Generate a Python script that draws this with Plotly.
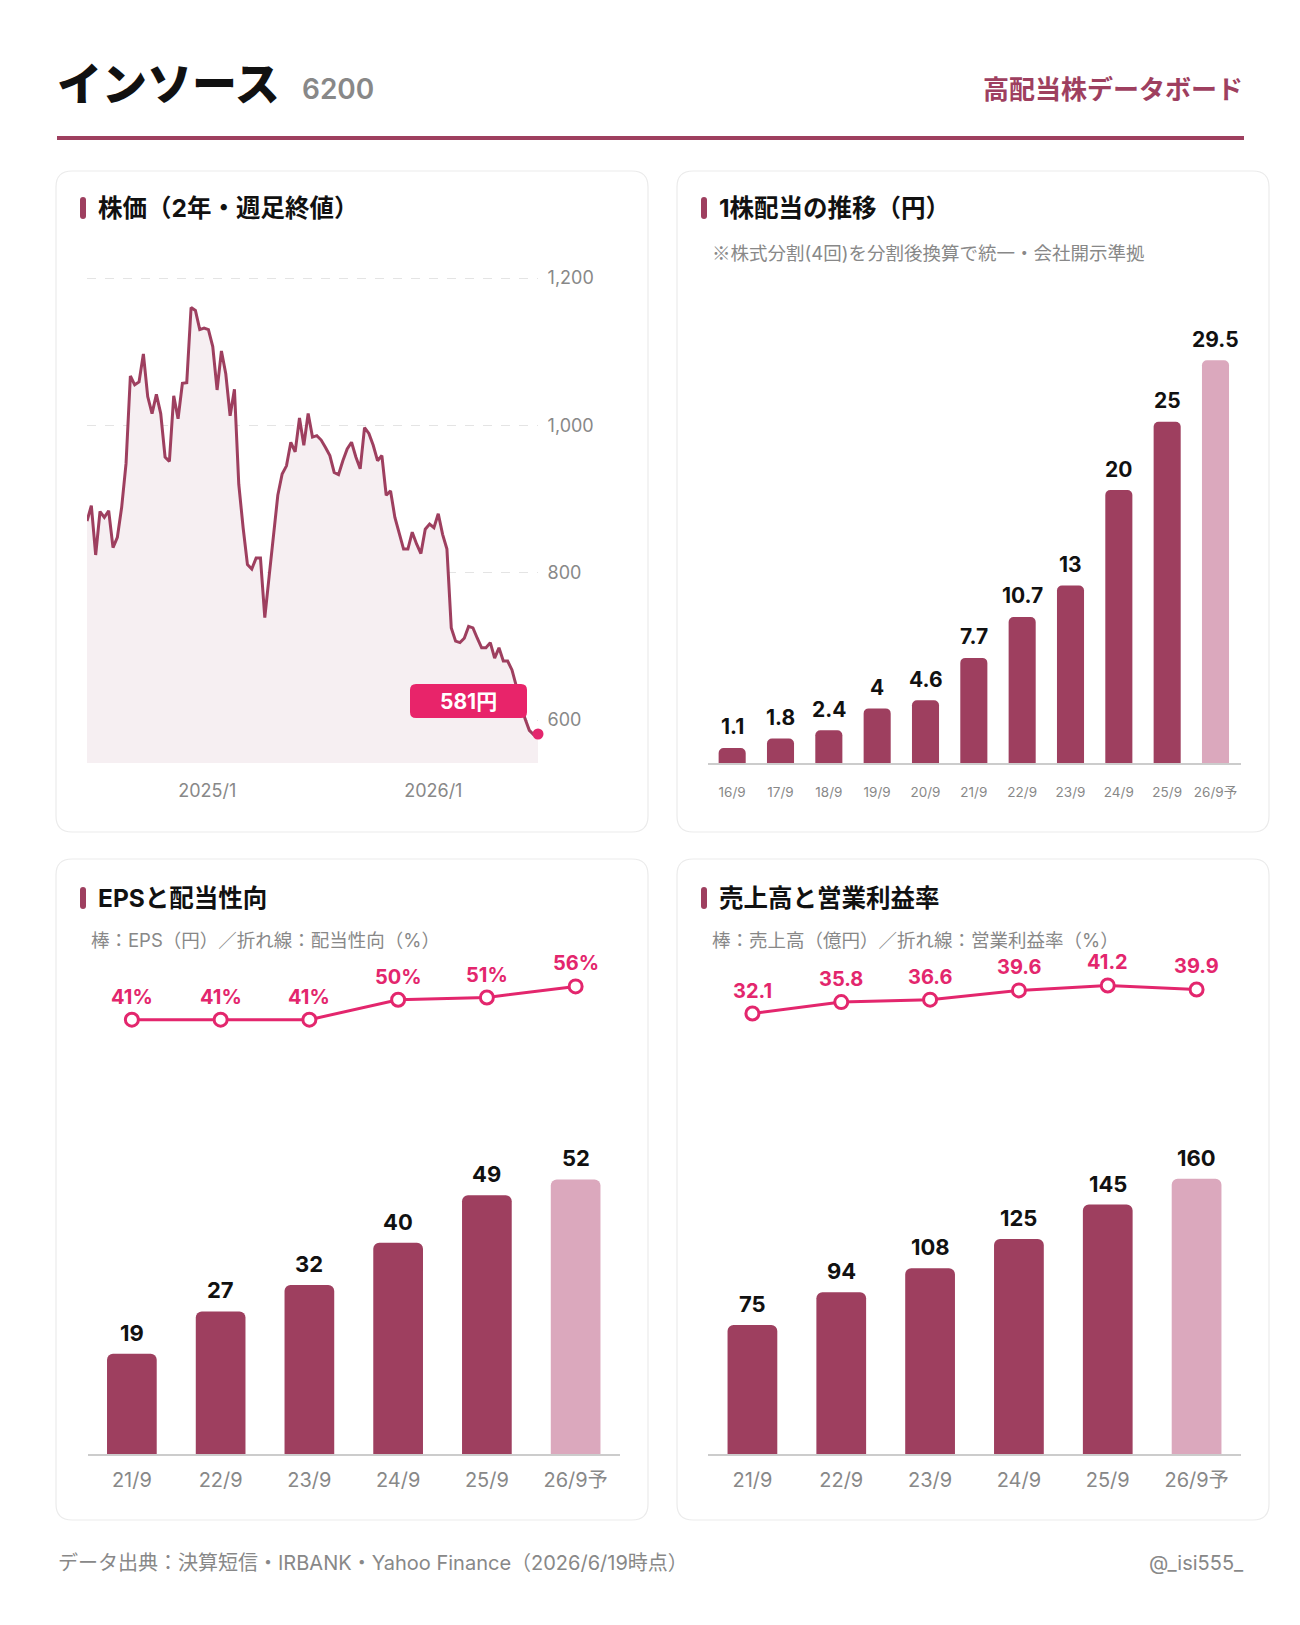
import plotly.graph_objects as go
import pandas as pd

W, H = 1300, 1625
OFF = 8  # browser body margin
FONT = "Inter, Noto Sans CJK JP"
CJK = "Noto Sans CJK JP"
MAROON = "#9e3f5f"
FORECAST = "#dba8bd"
ACCENT = "#e3266d"
GRAY = "#888888"
DARK = "#111111"

# ---------------- data ----------------
price_values = [870, 891, 824, 883, 875, 884, 834, 848, 889, 948,
                1067, 1055, 1059, 1097, 1039, 1016, 1042, 1016, 957, 951,
                1040, 1009, 1057, 1058, 1160, 1156, 1130, 1132, 1130, 1107,
                1048, 1101, 1070, 1013, 1049, 920, 861, 811, 805, 820,
                820, 739, 795, 855, 905, 934, 945, 977, 964, 1010,
                973, 1016, 984, 986, 980, 970, 959, 936, 933, 952,
                968, 977, 957, 941, 997, 989, 973, 952, 959, 905,
                911, 875, 855, 832, 832, 855, 839, 826, 859, 866,
                861, 880, 852, 832, 725, 707, 705, 711, 727, 725,
                711, 698, 698, 705, 684, 698, 680, 680, 668, 645,
                625, 602, 586, 580, 581]
price_end_date = "2026-06-19"
price_ticks = [600, 800, 1000, 1200]
price_date_ticks = ["2025-01-01", "2026-01-01"]
price_date_labels = ["2025/1", "2026/1"]

div_years = ["16/9", "17/9", "18/9", "19/9", "20/9", "21/9", "22/9", "23/9", "24/9", "25/9", "26/9予"]
div_values = [1.1, 1.8, 2.4, 4, 4.6, 7.7, 10.7, 13, 20, 25, 29.5]

fin_years = ["21/9", "22/9", "23/9", "24/9", "25/9", "26/9予"]
eps_values = [19, 27, 32, 40, 49, 52]
payout_values = [41, 41, 41, 50, 51, 56]
sales_values = [75, 94, 108, 125, 145, 160]
margin_values = [32.1, 35.8, 36.6, 39.6, 41.2, 39.9]

price_dates = pd.date_range(end=price_end_date, periods=len(price_values), freq="7D")


def bar_colors(labels):
    return [FORECAST if l.endswith("予") else MAROON for l in labels]


def fmt(v):
    return f"{v:g}"


# ---------------- helpers (target pixel -> paper) ----------------
def px(x):
    return (x - OFF) / W


def py(y):
    return 1 - (y - OFF) / H


def dx(a, b):
    return [px(a), px(b)]


def dy(top, bottom):
    return [py(bottom), py(top)]


def rrect_path(x0, y0, x1, y1, r):
    rx, ry = r / W, r / H
    X0, X1 = px(x0), px(x1)
    Y0, Y1 = py(y0), py(y1)
    return (f"M{X0+rx},{Y0} L{X1-rx},{Y0} Q{X1},{Y0} {X1},{Y0-ry} "
            f"L{X1},{Y1+ry} Q{X1},{Y1} {X1-rx},{Y1} L{X0+rx},{Y1} "
            f"Q{X0},{Y1} {X0},{Y1+ry} L{X0},{Y0-ry} Q{X0},{Y0} {X0+rx},{Y0} Z")


fig = go.Figure()

# ---------------- stock price ----------------
fig.add_trace(go.Scatter(
    x=price_dates, y=price_values, mode="lines",
    line=dict(color=MAROON, width=3), fill="tozeroy", fillcolor="#f6eff2",
    xaxis="x", yaxis="y", hoverinfo="skip", showlegend=False))
fig.add_trace(go.Scatter(
    x=[price_dates[-1]], y=[price_values[-1]], mode="markers",
    marker=dict(color=ACCENT, size=11), cliponaxis=False,
    xaxis="x", yaxis="y", showlegend=False))

# ---------------- dividends ----------------
fig.add_trace(go.Bar(
    x=div_years, y=div_values, width=0.56,
    marker=dict(color=bar_colors(div_years), cornerradius=5, line=dict(width=0)),
    xaxis="x2", yaxis="y2", showlegend=False))

# ---------------- EPS & payout ----------------
fig.add_trace(go.Bar(
    x=fin_years, y=eps_values, width=0.56,
    marker=dict(color=bar_colors(fin_years), cornerradius=6, line=dict(width=0)),
    xaxis="x3", yaxis="y3", showlegend=False))
fig.add_trace(go.Scatter(
    x=fin_years, y=payout_values, mode="lines+markers",
    line=dict(color=ACCENT, width=3),
    marker=dict(size=13, color="white", line=dict(color=ACCENT, width=3)),
    cliponaxis=False, xaxis="x3", yaxis="y4", showlegend=False))

# ---------------- sales & margin ----------------
fig.add_trace(go.Bar(
    x=fin_years, y=sales_values, width=0.56,
    marker=dict(color=bar_colors(fin_years), cornerradius=6, line=dict(width=0)),
    xaxis="x5", yaxis="y5", showlegend=False))
fig.add_trace(go.Scatter(
    x=fin_years, y=margin_values, mode="lines+markers",
    line=dict(color=ACCENT, width=3),
    marker=dict(size=13, color="white", line=dict(color=ACCENT, width=3)),
    cliponaxis=False, xaxis="x5", yaxis="y6", showlegend=False))

# ---------------- axes ----------------
hidden_y = dict(visible=False, showgrid=False, zeroline=False, fixedrange=True)


def cat_x(domain, anchor, size, ticklen):
    return dict(domain=domain, anchor=anchor, type="category", showgrid=False, zeroline=False,
                showline=True, linecolor="#cccccc", linewidth=2,
                ticks="outside", ticklen=ticklen, tickcolor="rgba(0,0,0,0)",
                tickfont=dict(family=FONT, size=size, color=GRAY))


scale = (720 - 278) / 600.0
y_top_val = 1200 + (278 - 256) / scale
y_bot_val = 600 - (763 - 720) / scale

div_scale = 13.65
div_top = 298
eps_scale = 5.28
sales_scale = 1.72
bar_top, bar_bot = 1100, 1454
eps_line_scale = 2.22
margin_line_scale = 3.08
line_top, line_bot = 930, 1070

fig.update_layout(
    width=W, height=H,
    margin=dict(l=0, r=0, t=0, b=0),
    paper_bgcolor="white", plot_bgcolor="rgba(0,0,0,0)",
    font=dict(family=FONT, color=DARK),
    bargap=0.44,
    xaxis=dict(domain=dx(87, 538), anchor="y", type="date",
               range=[price_dates[0], price_dates[-1]],
               tickvals=price_date_ticks, ticktext=price_date_labels,
               showgrid=False, zeroline=False, showline=False,
               ticks="outside", ticklen=11, tickcolor="rgba(0,0,0,0)",
               tickfont=dict(family=FONT, size=18, color=GRAY)),
    yaxis=dict(domain=dy(256, 763), anchor="x", range=[y_bot_val, y_top_val], side="right",
               tickvals=price_ticks, tickformat=",",
               showgrid=True, gridcolor="#e4e4e4", griddash="dash", gridwidth=1,
               zeroline=False, showline=False,
               ticks="outside", ticklen=5, tickcolor="rgba(0,0,0,0)",
               tickfont=dict(family=FONT, size=18, color=GRAY)),
    xaxis2=cat_x(dx(708, 1241), "y2", 13.5, 16),
    yaxis2=dict(hidden_y, domain=dy(div_top, 763), range=[0, (763 - div_top) / div_scale], anchor="x2"),
    xaxis3=cat_x(dx(87.5, 620), "y3", 20, 7),
    yaxis3=dict(hidden_y, domain=dy(bar_top, bar_bot), range=[0, (bar_bot - bar_top) / eps_scale], anchor="x3"),
    yaxis4=dict(hidden_y, domain=dy(line_top, line_bot),
                range=[41 - (line_bot - 1019.7) / eps_line_scale, 41 + (1019.7 - line_top) / eps_line_scale],
                anchor="x3"),
    xaxis5=cat_x(dx(708, 1241), "y5", 20, 7),
    yaxis5=dict(hidden_y, domain=dy(bar_top, bar_bot), range=[0, (bar_bot - bar_top) / sales_scale], anchor="x5"),
    yaxis6=dict(hidden_y, domain=dy(line_top, line_bot),
                range=[32.1 - (line_bot - 1013.5) / margin_line_scale, 32.1 + (1013.5 - line_top) / margin_line_scale],
                anchor="x5"),
)

shapes = []
annotations = []

# panels
for (x0, y0, x1, y1) in [(56, 171, 648, 832), (677, 171, 1269, 832),
                         (56, 859, 648, 1520), (677, 859, 1269, 1520)]:
    shapes.append(dict(type="path", xref="paper", yref="paper",
                       path=rrect_path(x0, y0, x1, y1, 16),
                       line=dict(color="#ebebeb", width=1.2), fillcolor="white", layer="below"))

# header line
shapes.append(dict(type="rect", xref="paper", yref="paper",
                   x0=px(57), x1=px(1244), y0=py(136), y1=py(140),
                   line=dict(width=0), fillcolor=MAROON))

# header texts
annotations.append(dict(text="インソース", x=px(55), y=py(82), xref="paper", yref="paper",
                        xanchor="left", yanchor="middle", showarrow=False,
                        font=dict(family=CJK, size=45, color=DARK, weight=900)))
annotations.append(dict(text="6200", x=px(300), y=py(89), xref="paper", yref="paper",
                        xanchor="left", yanchor="middle", showarrow=False,
                        font=dict(family=FONT, size=28, color=GRAY, weight=600)))
annotations.append(dict(text="高配当株データボード", x=px(1245), y=py(88), xref="paper", yref="paper",
                        xanchor="right", yanchor="middle", showarrow=False,
                        font=dict(family=CJK, size=26, color=MAROON, weight=700)))

# panel titles with accent bars
titles = [(80, 208, "株価（2年・週足終値）"),
          (701, 208, "1株配当の推移（円）"),
          (80, 898, "EPSと配当性向"),
          (701, 898, "売上高と営業利益率")]
for bx, ty, txt in titles:
    shapes.append(dict(type="path", xref="paper", yref="paper",
                       path=rrect_path(bx, ty - 11, bx + 6, ty + 11, 3),
                       line=dict(width=0), fillcolor=MAROON))
    annotations.append(dict(text=txt, x=px(bx + 16), y=py(ty), xref="paper", yref="paper",
                            xanchor="left", yanchor="middle", showarrow=False,
                            font=dict(family=FONT, size=24.5, color=DARK, weight=700)))

subtitles = [(710, 252, "<span style='font-family:Noto Sans CJK JP'>※</span>株式分割(4回)を分割後換算で統一・会社開示準拠"),
             (89, 940, "棒：EPS（円）／折れ線：配当性向（%）"),
             (710, 940, "棒：売上高（億円）／折れ線：営業利益率（%）")]
for sx, sy, txt in subtitles:
    annotations.append(dict(text=txt, x=px(sx), y=py(sy), xref="paper", yref="paper",
                            xanchor="left", yanchor="middle", showarrow=False,
                            font=dict(family=FONT, size=18.5, color=GRAY)))

# footer
annotations.append(dict(text="データ出典：決算短信・IRBANK・Yahoo Finance（2026/6/19時点）",
                        x=px(56), y=py(1563), xref="paper", yref="paper",
                        xanchor="left", yanchor="middle", showarrow=False,
                        font=dict(family=FONT, size=20, color=GRAY)))
annotations.append(dict(text="@_isi555_", x=px(1246), y=py(1563), xref="paper", yref="paper",
                        xanchor="right", yanchor="middle", showarrow=False,
                        font=dict(family=FONT, size=20, color=GRAY)))

# last price label box (pixel offsets relative to last point)
shapes.append(dict(type="path", xref="x", yref="y", xsizemode="pixel", ysizemode="pixel",
                   xanchor=price_dates[-1], yanchor=price_values[-1],
                   path="M-122,16 L-17,16 Q-11,16 -11,22 L-11,44 Q-11,50 -17,50 "
                        "L-122,50 Q-128,50 -128,44 L-128,22 Q-128,16 -122,16 Z",
                   line=dict(width=0), fillcolor="#e8246a", layer="above"))
annotations.append(dict(text=f"{price_values[-1]}円", x=price_dates[-1], y=price_values[-1],
                        xref="x", yref="y", xshift=-70, yshift=33, showarrow=False,
                        xanchor="center", yanchor="middle",
                        font=dict(family=FONT, size=21, color="white", weight=700)))

# bar value labels
for cat, v in zip(div_years, div_values):
    annotations.append(dict(text=fmt(v), x=cat, y=v, xref="x2", yref="y2", yshift=21,
                            showarrow=False, yanchor="middle",
                            font=dict(family=FONT, size=21, color=DARK, weight=700)))
for cat, v in zip(fin_years, eps_values):
    annotations.append(dict(text=fmt(v), x=cat, y=v, xref="x3", yref="y3", yshift=21,
                            showarrow=False, yanchor="middle",
                            font=dict(family=FONT, size=22, color=DARK, weight=700)))
for cat, v in zip(fin_years, sales_values):
    annotations.append(dict(text=fmt(v), x=cat, y=v, xref="x5", yref="y5", yshift=21,
                            showarrow=False, yanchor="middle",
                            font=dict(family=FONT, size=22, color=DARK, weight=700)))
# line value labels
for cat, v in zip(fin_years, payout_values):
    annotations.append(dict(text=f"{fmt(v)}%", x=cat, y=v, xref="x3", yref="y4", yshift=23,
                            showarrow=False, yanchor="middle",
                            font=dict(family=FONT, size=20, color=ACCENT, weight=700)))
for cat, v in zip(fin_years, margin_values):
    annotations.append(dict(text=fmt(v), x=cat, y=v, xref="x5", yref="y6", yshift=23,
                            showarrow=False, yanchor="middle",
                            font=dict(family=FONT, size=20, color=ACCENT, weight=700)))

fig.update_layout(shapes=shapes, annotations=annotations)

fig.write_html("out.html")
